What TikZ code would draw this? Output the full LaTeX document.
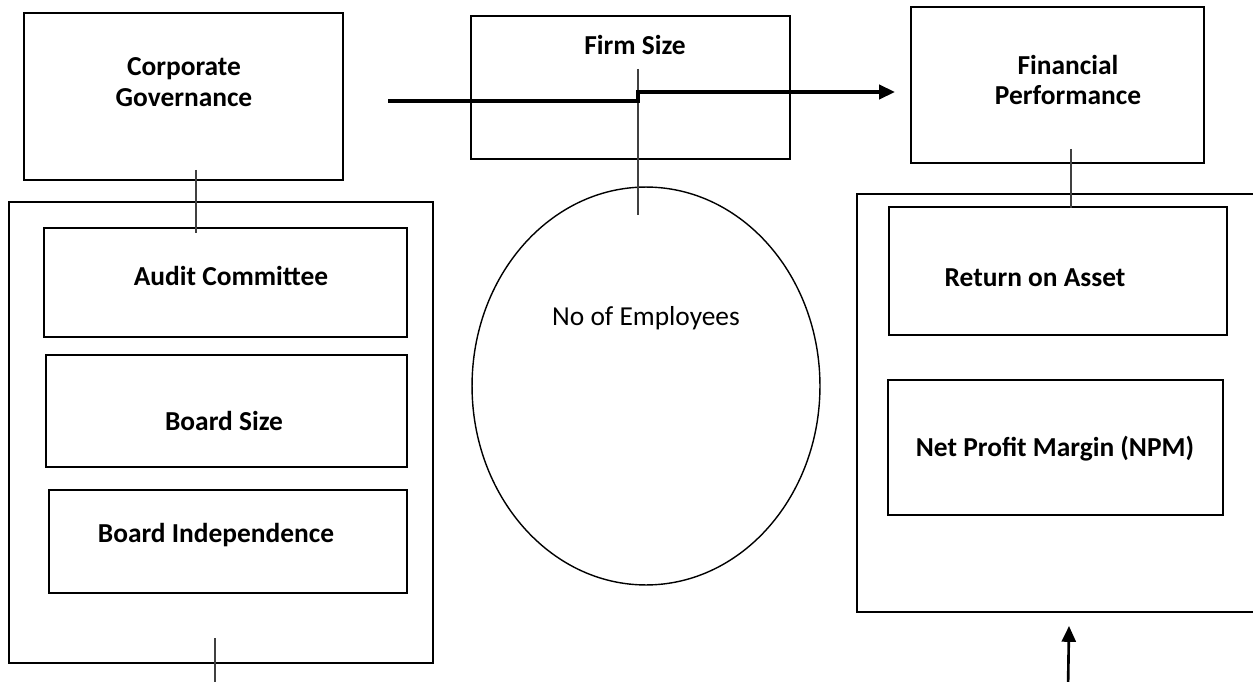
\documentclass[tikz,border=0pt]{standalone}
\usepackage{fontspec}
\setmainfont{Carlito}
\usetikzlibrary{shapes.geometric, arrows.meta}
\tikzstyle{boxRec} = [rectangle, draw=black, line width=0.9pt, inner sep=0pt]
\tikzstyle{boxTxt} = [align=center, font=\fontsize{15.6}{17.5}\selectfont\bfseries]
\tikzstyle{thinLink} = [draw=black!75, line width=0.6pt]
\tikzstyle{mainLink} = [draw=black, line width=1.5pt, -{Triangle[length=9pt, width=8pt]}]

\begin{document}
\begin{tikzpicture}[x=0.02cm, y=-0.02cm]
    \clip (0,0) rectangle (1253,682);

    % independent variable block
    \node (CG) [boxRec, minimum width=6.38cm, minimum height=3.34cm] at (183.5,96.5) {};
    \node (CGTxt) [boxTxt] at (184,82) {Corporate\\Governance};
    \node (Left) [boxRec, minimum width=8.48cm, minimum height=9.22cm] at (221,432.5) {};
    \node (Audit) [boxRec, minimum width=7.26cm, minimum height=2.18cm] at (225.5,282.5) {};
    \node (AuditTxt) [boxTxt] at (231,276) {Audit Committee};
    \node (BSize) [boxRec, minimum width=7.22cm, minimum height=2.24cm] at (226.5,411) {};
    \node (BSizeTxt) [boxTxt] at (224,421) {Board Size};
    \node (BInd) [boxRec, minimum width=7.16cm, minimum height=2.06cm] at (228,541.5) {};
    \node (BIndTxt) [boxTxt] at (216,535) {Board Independence};

    % moderating variable
    \node (Firm) [boxRec, minimum width=6.38cm, minimum height=2.86cm] at (630.5,87.5) {};
    \node (FirmTxt) [boxTxt] at (635,45) {Firm Size};
    \node (Emp) [ellipse, draw=black, line width=0.8pt, minimum width=6.96cm, minimum height=7.96cm, inner sep=0pt] at (646,386) {};
    \node (EmpTxt) [font=\fontsize{15.6}{17.5}\selectfont] at (646,318) {No of Employees};

    % dependent variable block
    \node (FP) [boxRec, minimum width=5.86cm, minimum height=3.12cm] at (1057.5,85) {};
    \node (FPTxt) [boxTxt] at (1068,80) {Financial\\Performance};
    \node (Right) [boxRec, minimum width=8.26cm, minimum height=8.36cm] at (1063.5,403) {};
    \node (ROA) [boxRec, minimum width=6.76cm, minimum height=2.56cm] at (1058,271) {};
    \node (ROATxt) [boxTxt] at (1035,278) {Return on Asset};
    \node (NPM) [boxRec, minimum width=6.70cm, minimum height=2.70cm] at (1055.5,447.5) {};
    \node (NPMTxt) [boxTxt] at (1055,449) {Net Profit Margin (NPM)};

    % link ends
    \coordinate (cgDown) at (196,170);
    \coordinate (auditUp) at (196,233);
    \coordinate (firmUp) at (638,69);
    \coordinate (empUp) at (638,215);
    \coordinate (fpDown) at (1071,149);
    \coordinate (roaUp) at (1071,208);
    \coordinate (arrStart) at (388,101);
    \coordinate (arrStep) at (638,101);
    \coordinate (arrEnd) at (895,92);
    \coordinate (leftOut) at (215,638);
    \coordinate (leftEdge) at (215,690);
    \coordinate (rightIn) at (1069,626);
    \coordinate (rightEdge) at (1068,690);

    \draw [thinLink] (cgDown) -- (auditUp);
    \draw [thinLink] (firmUp) -- (empUp);
    \draw [thinLink] (fpDown) -- (roaUp);
    \draw [thinLink, line width=0.8pt] (leftOut) -- (leftEdge);
    \draw [mainLink, line width=1.9pt] (arrStart) -- (arrStep) -- ++(0,-9) -- (arrEnd);
    \draw [mainLink, line width=1.5pt] (rightEdge) -- (rightIn);
\end{tikzpicture}
\end{document}
